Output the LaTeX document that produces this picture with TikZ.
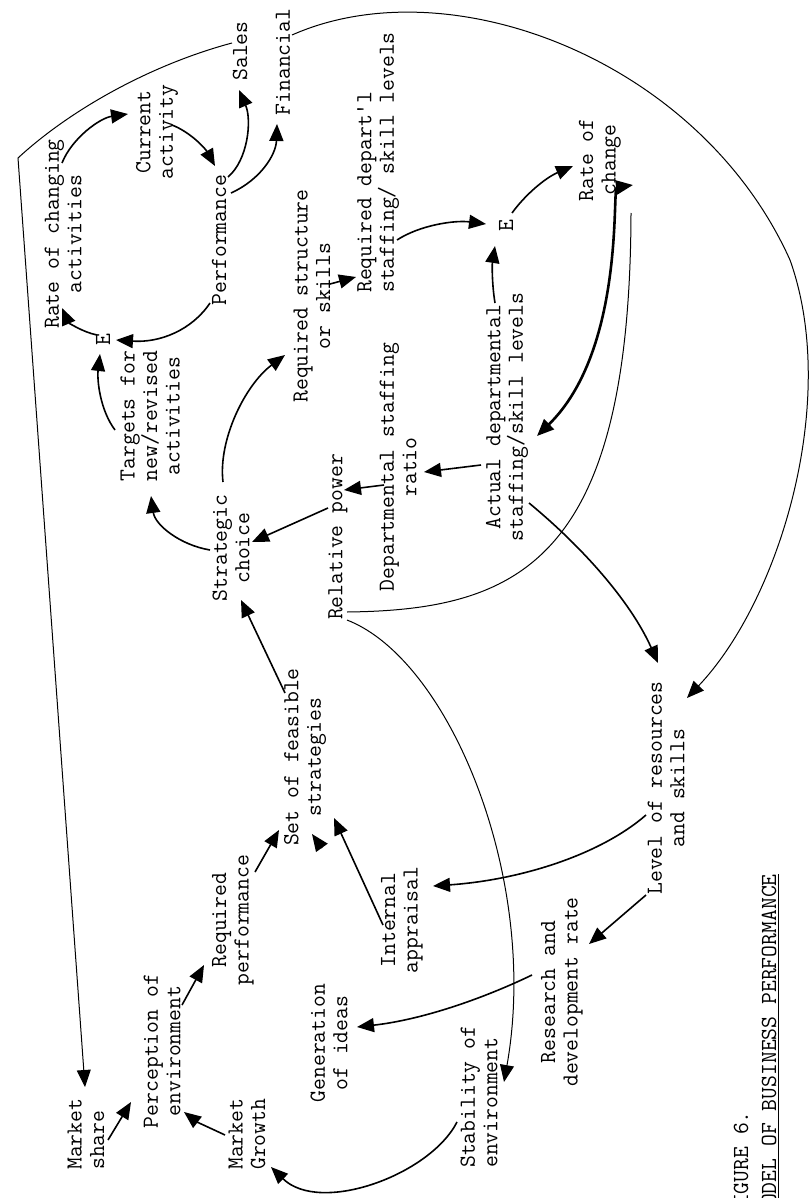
\documentclass[tikz,border=0pt]{standalone}
\usepackage{tikz}
\usetikzlibrary{arrows.meta,calc}

\tikzset{
  lbl/.style={rotate=90,inner sep=0pt,align=center,
    font=\ttfamily\fontsize{23}{22.5}\selectfont},
  lbll/.style={lbl,align=left,anchor=west},
  arr/.style={-{Triangle[length=17pt,width=14pt]},line width=1.6pt},
  dblarr/.style={{Triangle[length=17pt,width=14pt]}-{Triangle[length=17pt,width=14pt]},
    line width=2.6pt},
  thinline/.style={line width=1pt},
}

\begin{document}
\begin{tikzpicture}[x=1pt,y=-1pt]
  \useasboundingbox (0,0) rectangle (808,1198);

  % activity loop
  \node[lbl] (rca)   at (63,234)  {Rate of changing\\activities};
  \node[lbl] (cur)   at (157,132) {Current\\activity};
  \node[lbl] (perf)  at (219,240) {Performance};
  \node[lbl] (sales) at (240,51)  {Sales};
  \node[lbl] (fin)   at (283,62)  {Financial};
  \node[lbl] (e1)    at (103,340) {E};
  \node[lbl] (tgt)   at (150,416) {Targets for\\new/revised\\activities};
  \node[lbl] (strat) at (231,548) {Strategic\\choice};

  % staffing loop
  \node[lbl]  (reqs) at (312,296) {Required structure\\or skills};
  \node[lbll] (reqd) at (378,293) {Required depart'l\\staffing/ skill levels};
  \node[lbl]  (e2)   at (506,226) {E};
  \node[lbl]  (roc)  at (600,160) {Rate of\\change};
  \node[lbl]  (act)  at (507,417) {Actual departmental\\staffing/skill levels};
  \node[lbl]  (dsr)  at (398,467) {Departmental staffing\\ratio};
  \node[lbl]  (relp) at (338,537) {Relative power};

  % strategy formation
  \node[lbl]  (set)    at (305,757)  {Set of feasible\\strategies};
  \node[lbl]  (lvl)    at (666,788)  {Level of resources\\and skills};
  \node[lbl]  (rperf)  at (233,920)  {Required\\performance};
  \node[lbl]  (int)    at (402,920)  {Internal\\appraisal};
  \node[lbl]  (gen)    at (329,1043) {Generation\\of ideas};
  \node[lbl]  (perc)   at (162,1051) {Perception of\\environment};
  \node[lbll] (mshare) at (86,1170)  {Market\\share};
  \node[lbll] (mgrow)  at (247,1170) {Market\\Growth};
  \node[lbll] (stab)   at (479,1168) {Stability of\\environment};
  \node[lbl]  (rnd)    at (562,992)  {Research and\\development rate};

  % caption
  \node[lbll] (fig)   at (741,1218) {FIGURE 6.};
  \node[lbll] (model) at (770,1218) {\underline{MODEL OF BUSINESS PERFORMANCE}};

  \coordinate (bend) at (18,158);
  \coordinate (farR) at (790,260);

  % arrows of the activity loop
  \draw[arr] ($(e1)+(-6,-5)$) .. controls (82,332) and (68,322) .. ($(rca)+(-1,74)$);
  \draw[arr] ($(rca)+(-1,-71)$) .. controls (72,138) and (100,118) .. ($(cur)+(-29,-18)$);
  \draw[arr] ($(cur)+(15,-7)$) .. controls (190,132) and (205,148) .. ($(perf)+(-4,-74)$);
  \draw[arr] ($(perf)+(9,-63)$) .. controls (248,160) and (252,120) .. ($(sales)+(-1,39)$);
  \draw[arr] ($(perf)+(12,-47)$) .. controls (260,180) and (276,155) .. ($(fin)+(-6,62)$);
  \draw[arr] ($(perf)+(-9,63)$) .. controls (192,330) and (160,343) .. ($(e1)+(13,0)$);
  \draw[arr] ($(tgt)+(-35,14)$) .. controls (100,410) and (97,380) .. ($(e1)+(-3,14)$);
  \draw[arr] ($(strat)+(-21,2)$) .. controls (180,545) and (155,525) .. ($(tgt)+(1,80)$);
  \draw[arr] ($(strat)+(-8,-66)$) .. controls (218,440) and (245,385) .. ($(reqs)+(-27,59)$);

  % arrows of the staffing loop
  \draw[arr] ($(reqs)+(18,-12)$) -- ($(reqd.west)+(-22,-16)$);
  \draw[arr] ($(reqd.west)+(19,-53)$) .. controls (420,225) and (455,220) .. ($(e2)+(-20,-2)$);
  \draw[arr] ($(act)+(-12,-114)$) .. controls (492,285) and (492,265) .. ($(e2)+(-11,20)$);
  \draw[arr] ($(e2)+(6,-13)$) .. controls (525,195) and (545,178) .. ($(roc)+(-27,6)$);
  \draw[dblarr] ($(roc)+(33,25)$) .. controls (612,188) and (625,350) .. ($(act)+(30,19)$);
  \draw[arr] ($(act)+(-26,48)$) -- ($(dsr)+(26,5)$);
  \draw[arr] ($(dsr)+(-14,18)$) -- ($(relp)+(6,-47)$);
  \draw[arr] ($(relp)+(-10,-29)$) -- ($(strat)+(21,-6)$);
  \draw[thinline] ($(relp)+(9,75)$) .. controls (520,610) and (630,560) .. ($(roc)+(31,53)$);

  % arrows of strategy formation
  \draw[arr] ($(set)+(-20,-64)$) -- ($(strat)+(10,52)$);
  \draw[arr] ($(rperf)+(22,-48)$) -- ($(set)+(-26,73)$);
  \draw[arr] ($(int)+(-19,5)$) -- ($(set)+(29,61)$);
  \draw[arr] ($(set)+(17,91)$) -- ($(set)+(7,77)$);
  \draw[arr] ($(act)+(22,86)$) .. controls (580,545) and (630,600) .. ($(lvl)+(-8,-125)$);
  \draw[arr] ($(lvl)+(-20,27)$) .. controls (600,855) and (520,880) .. ($(int)+(31,-34)$);
  \draw[arr] ($(lvl)+(-20,107)$) -- ($(rnd)+(27,-48)$);
  \draw[arr] ($(rnd)+(-30,-17)$) .. controls (480,1000) and (420,1020) .. ($(gen)+(28,-16)$);
  \draw[arr,thinline] ($(relp)+(9,83)$) .. controls (450,660) and (540,880) .. ($(stab.west)+(25,-86)$);
  \draw[arr] ($(stab.west)+(-22,-46)$) .. controls (430,1175) and (320,1215) .. ($(mgrow.west)+(24,-3)$);
  \draw[arr] ($(mgrow.west)+(-22,-35)$) .. controls (210,1128) and (197,1122) .. ($(perc)+(22,61)$);
  \draw[arr] ($(mshare.west)+(22,-30)$) -- ($(perc)+(-31,51)$);
  \draw[arr] ($(perc)+(20,-46)$) -- ($(rperf)+(-29,45)$);

  % long feedback lines
  \draw[arr,thinline] ($(sales)+(-8,-8)$) .. controls (150,65) and (70,110) .. (bend)
    -- ($(mshare.west)+(-1,-83)$);
  \draw[arr,thinline] ($(fin)+(9,-27)$) .. controls (450,-35) and (700,60) .. (farR)
    .. controls (840,400) and (780,600) .. ($(lvl)+(21,-90)$);
\end{tikzpicture}
\end{document}
